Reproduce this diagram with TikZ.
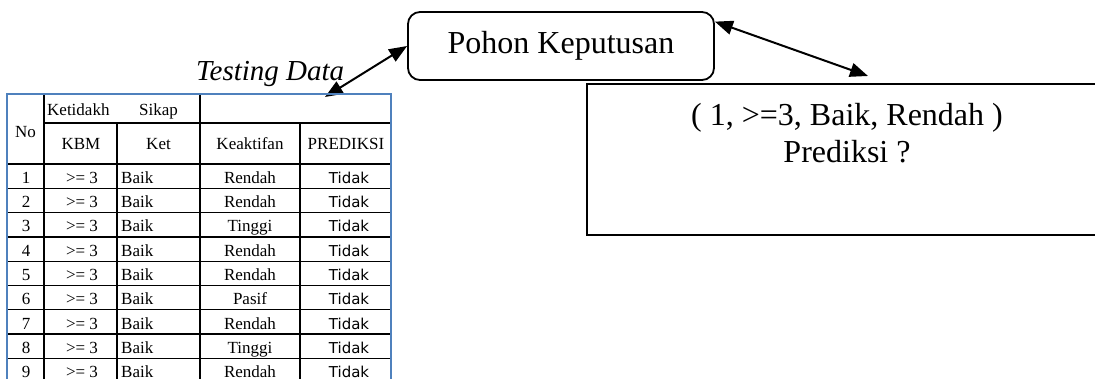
\documentclass[tikz,border=0pt]{standalone}
\usepackage{fontspec}
\setmainfont{Liberation Serif}
\newfontfamily\tblsans{DejaVu Sans}
\usepackage{xcolor}
\usetikzlibrary{arrows.meta}
\usetikzlibrary{positioning}
\definecolor{tblblue}{RGB}{79,129,189}
\tikzstyle{arrow} = [line width=2pt,{Triangle[length=18pt,width=14pt]}-{Triangle[length=18pt,width=14pt]}]
\tikzstyle{bigtext} = [font=\fontsize{32}{37}\selectfont, inner sep=0pt]
\tikzstyle{cell} = [font=\fontsize{17}{20}\selectfont, inner sep=0pt, anchor=base]
\tikzstyle{grid} = [line width=1.3pt]

\begin{document}
\begin{tikzpicture}[x=1pt,y=-1pt]
  \clip (0,0) rectangle (1095,378);
  % boxes
  \node (pohon) [draw, line width=1.8pt, rounded corners=12pt, minimum width=306pt, minimum height=68pt, bigtext] at (561,46) {Pohon Keputusan};
  \node (pred) [draw, line width=2pt, minimum width=520pt, minimum height=151pt] at (847,159.5) {};
  \node (pred1) [bigtext, anchor=base] at (847,125) {( 1, >=3, Baik, Rendah )};
  \node (pred2) [bigtext, anchor=base] at (847,162) {Prediksi ?};
  \node (testing) [font=\fontsize{29}{33}\selectfont\itshape, inner sep=0pt, anchor=base west] at (196,80) {Testing Data};
  % arrows
  \coordinate (tbltop) at (325,97);
  \coordinate (predtop) at (868,76);
  \draw [arrow] (tbltop) -- (pohon.west);
  \draw [arrow] (pohon.9) -- (predtop);
  % table grid
  \draw [grid] (44,94) -- (44,390);
  \draw [grid] (117,123) -- (117,390);
  \draw [grid] (200,94) -- (200,390);
  \draw [grid] (300,123) -- (300,390);
  \draw [grid] (44,123) -- (391,123);
  \foreach \i in {0,...,8}
    \draw [grid] (7,{164+24.3*\i}) -- (391,{164+24.3*\i});
  \draw [line width=2.5pt, tblblue] (7,390) -- (7,94) -- (391,94) -- (391,390);
  % table header
  \node (hno) [cell] at (25.5,137) {No};
  \node (hket1) [cell, anchor=base west] at (47,115) {Ketidakh};
  \node (hsikap) [cell, anchor=base west] at (139,115) {Sikap};
  \node (hkbm) [cell] at (81,149) {KBM};
  \node (hket) [cell] at (158.5,149) {Ket};
  \node (hakt) [cell] at (250,149) {Keaktifan};
  \node (hpred) [cell] at (346,149) {PREDIKSI};
  % table rows
  \foreach \k [count=\i] in {Rendah,Rendah,Tinggi,Rendah,Rendah,Pasif,Rendah,Tinggi,Rendah} {
    \pgfmathsetmacro\yb{183.3+24.3*(\i-1)}
    \node (no\i) [cell] at (26,\yb) {\i};
    \node (kbm\i) [cell] at (82,\yb) {>= 3};
    \node (ket\i) [cell, anchor=base west] at (121,\yb) {Baik};
    \node (akt\i) [cell] at (250,\yb) {\k};
    \node (hasil\i) [cell, font=\tblsans\fontsize{15}{18}\selectfont] at (349,\yb) {Tidak};
  }
\end{tikzpicture}
\end{document}
